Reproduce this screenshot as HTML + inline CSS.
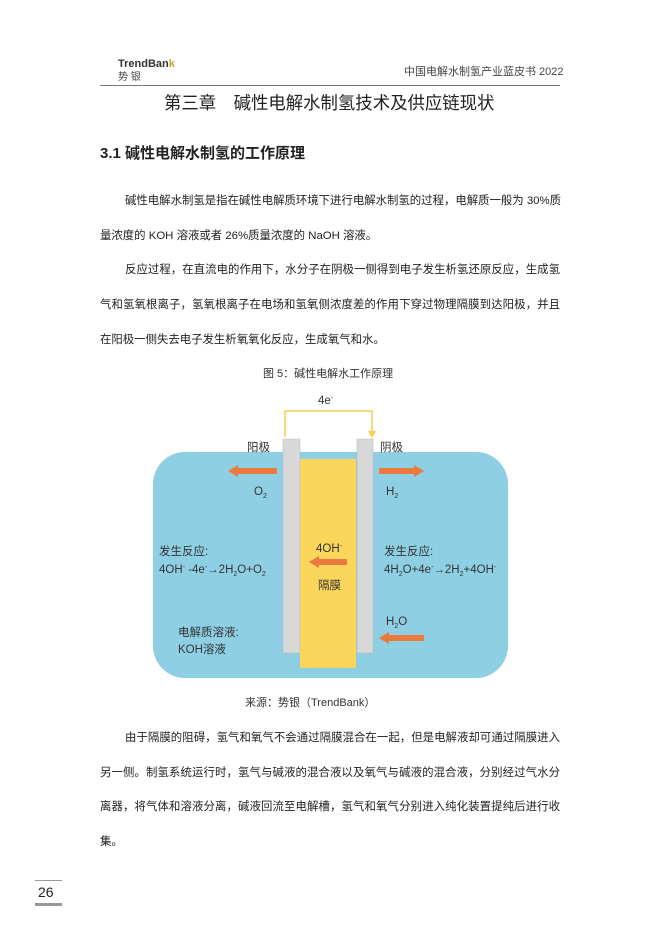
<!DOCTYPE html>
<html><head><meta charset="utf-8"><style>
body{margin:0;background:#fff;}
#p{position:relative;width:660px;height:933px;overflow:hidden;font-family:"Liberation Sans","Noto Sans CJK SC",sans-serif;color:#222;}
.a{position:absolute;white-space:nowrap;line-height:1;}
.j{position:absolute;width:460px;left:100px;font-size:11.4px;line-height:1;text-align:justify;text-align-last:justify;white-space:nowrap;}
.t{font-size:11.4px;}
</style></head><body><div id="p">
<div class="a" style="left:118px;top:59px;font-size:11px;font-weight:bold;color:#333">TrendBan<span style="color:#c8a030">k</span></div>
<div class="a" style="left:118px;top:73px;font-size:10px;color:#444">势 银</div>
<div class="a" style="left:404px;top:67px;font-size:11px;color:#444">中国电解水制氢产业蓝皮书 2022</div>
<div style="position:absolute;left:100px;top:85px;width:460px;height:1px;background:#777"></div>
<div class="a" style="left:164px;top:95px;font-size:17.4px;color:#222">第三章　碱性电解水制氢技术及供应链现状</div>
<div class="a" style="left:100px;top:146px;font-size:15px;font-weight:bold;color:#222">3.1 碱性电解水制氢的工作原理</div>
<div class="j" style="top:196px;padding-left:25px;width:435px">碱性电解水制氢是指在碱性电解质环境下进行电解水制氢的过程，电解质一般为 30%质</div>
<div class="a t" style="left:100px;top:231px">量浓度的 KOH 溶液或者 26%质量浓度的  NaOH 溶液。</div>
<div class="j" style="top:265px;padding-left:25px;width:435px">反应过程，在直流电的作用下，水分子在阴极一侧得到电子发生析氢还原反应，生成氢</div>
<div class="j" style="top:300px">气和氢氧根离子，氢氧根离子在电场和氢氧侧浓度差的作用下穿过物理隔膜到达阳极，并且</div>
<div class="a t" style="left:100px;top:335px">在阳极一侧失去电子发生析氧氧化反应，生成氧气和水。</div>
<div class="a" style="left:263px;top:369px;font-size:11px;color:#333">图 5：碱性电解水工作原理</div>
<svg style="position:absolute;left:0;top:0" width="660" height="933">
<rect x="153" y="452" width="355" height="226" rx="32" fill="#8ecfe4"/>
<polyline points="285,437 285,411 372,411 372,432" fill="none" stroke="#f5cf4a" stroke-width="1.5"/>
<polygon points="368,431 376,431 372,438" fill="#f5cf4a"/>
<rect x="300" y="459" width="56" height="209" fill="#fcd65a"/>
<rect x="283" y="439" width="17" height="214" fill="#d8d8d8" stroke="#b8b8b8" stroke-width="0.5"/>
<rect x="357" y="439" width="16" height="214" fill="#d8d8d8" stroke="#b8b8b8" stroke-width="0.5"/>
<g fill="#eb7a3c">
<rect x="236" y="468" width="41" height="6"/><polygon points="228,471 238,465 238,477"/>
<rect x="379" y="468" width="36" height="6"/><polygon points="424,471 414,465 414,477"/>
<rect x="317" y="559" width="30" height="6"/><polygon points="309,562 319,556 319,568"/>
<rect x="388" y="635" width="36" height="6"/><polygon points="379,638 389,632 389,644"/>
</g>
<g font-family="Liberation Sans,Noto Sans CJK SC,sans-serif" font-size="11.5" fill="#333">
<text x="318" y="404">4e<tspan font-size="7" dy="-4">-</tspan></text>
<text x="247" y="451">阳极</text><text x="380" y="451">阴极</text>
<text x="254" y="495">O<tspan font-size="7" dy="3">2</tspan></text>
<text x="386" y="495">H<tspan font-size="7" dy="3">2</tspan></text>
<text x="159" y="555">发生反应:</text>
<text x="159" y="573">4OH<tspan font-size="7" dy="-4">-</tspan><tspan dy="4"> -4e</tspan><tspan font-size="7" dy="-4">-</tspan><tspan dy="4">→2H</tspan><tspan font-size="7" dy="3">2</tspan><tspan dy="-3">O+O</tspan><tspan font-size="7" dy="3">2</tspan></text>
<text x="384" y="555">发生反应:</text>
<text x="384" y="573">4H<tspan font-size="7" dy="3">2</tspan><tspan dy="-3">O+4e</tspan><tspan font-size="7" dy="-4">-</tspan><tspan dy="4">→2H</tspan><tspan font-size="7" dy="3">2</tspan><tspan dy="-3">+4OH</tspan><tspan font-size="7" dy="-4">-</tspan></text>
<text x="316" y="552">4OH<tspan font-size="7" dy="-4">-</tspan></text>
<text x="318" y="589">隔膜</text>
<text x="386" y="625">H<tspan font-size="7" dy="3">2</tspan><tspan dy="-3">O</tspan></text>
<text x="178" y="636">电解质溶液:</text>
<text x="178" y="653">KOH溶液</text>
</g>
</svg>
<div class="a" style="left:245px;top:698px;font-size:11px;color:#333">来源：势银（TrendBank）</div>
<div class="j" style="top:733px;padding-left:25px;width:435px">由于隔膜的阻碍，氢气和氧气不会通过隔膜混合在一起，但是电解液却可通过隔膜进入</div>
<div class="j" style="top:768px">另一侧。制氢系统运行时，氢气与碱液的混合液以及氧气与碱液的混合液，分别经过气水分</div>
<div class="j" style="top:802px">离器，将气体和溶液分离，碱液回流至电解槽，氢气和氧气分别进入纯化装置提纯后进行收</div>
<div class="a t" style="left:100px;top:837px">集。</div>
<div style="position:absolute;left:35px;top:880px;width:27px;height:1px;background:#999"></div>
<div class="a" style="left:38px;top:885px;font-size:14px;color:#222">26</div>
<div style="position:absolute;left:35px;top:903px;width:27px;height:3px;background:#999"></div>
</div></body></html>
